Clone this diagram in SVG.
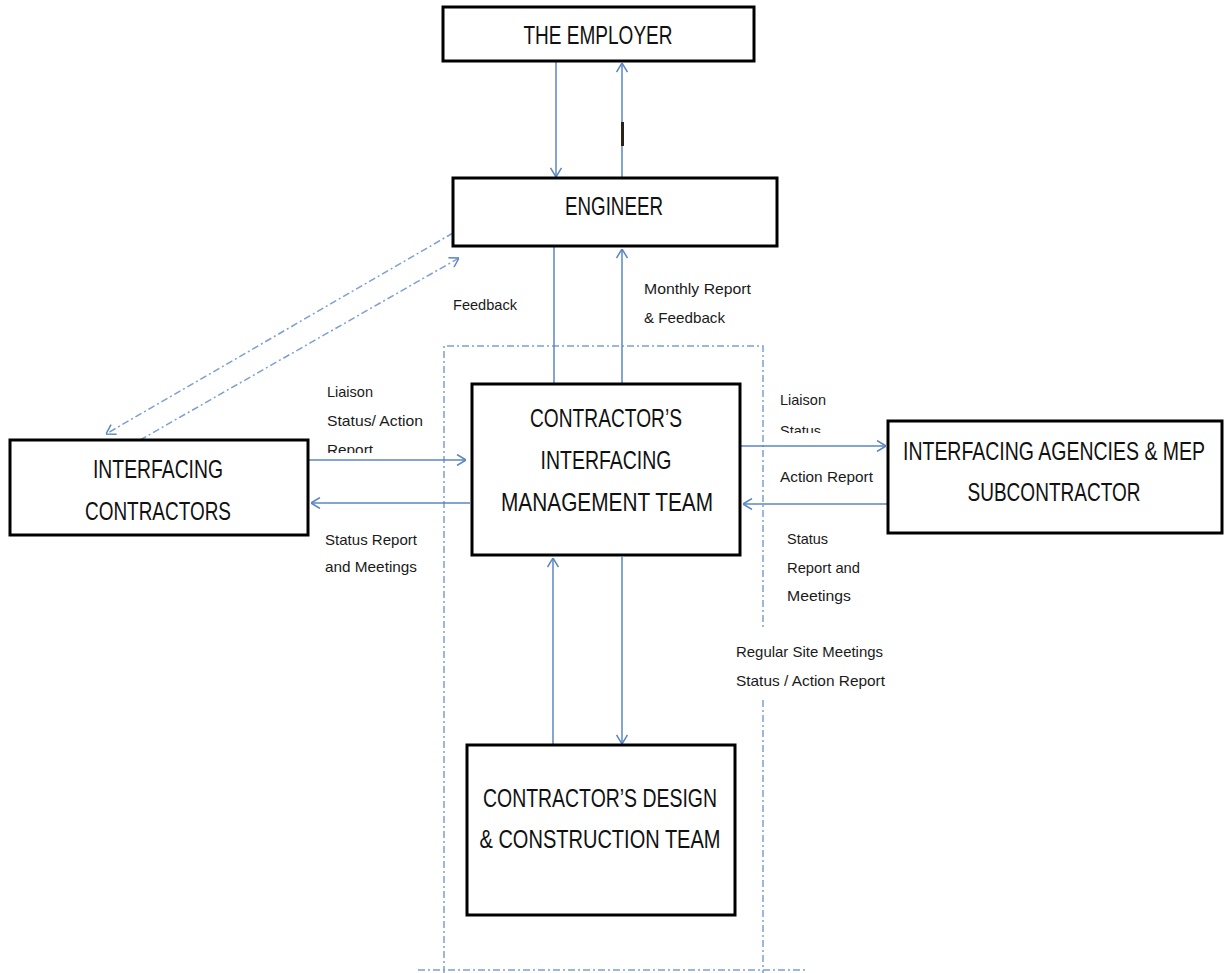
<svg xmlns="http://www.w3.org/2000/svg" width="1227" height="973" viewBox="0 0 1227 973">
<style>
.box{fill:#fff;stroke:#000;stroke-width:3}
.big{font-family:"Liberation Sans",Arial,sans-serif;font-size:25px;fill:#111;text-anchor:middle}
.lbl{font-family:"Liberation Sans",Arial,sans-serif;font-size:15px;fill:#1a1a1a}
.con{stroke:#5b86c2;stroke-width:1.5;fill:none}
.dd{stroke:#7ea0d0;stroke-width:1.5;fill:none;stroke-dasharray:7 3 2 3}
</style>
<defs>
<marker id="ah" viewBox="0 0 10 12" refX="10" refY="6" markerWidth="10" markerHeight="12" markerUnits="userSpaceOnUse" orient="auto">
<path d="M1,0.5 L10,6 L1,11.5" fill="none" stroke="#5b86c2" stroke-width="1.5"/>
</marker>
<clipPath id="clipL"><rect x="300" y="370" width="150" height="83"/></clipPath>
<clipPath id="clipR"><rect x="770" y="380" width="120" height="53"/></clipPath>
</defs>

<g id="boundary">
<path class="dd" d="M444,973 L444,346 L763,346 L763,627"/>
<path class="dd" d="M763,700 L763,973"/>
<path class="dd" d="M418,970 L806,970"/>
</g>

<g id="connectors">
<line class="con" x1="556" y1="62" x2="556" y2="177" marker-end="url(#ah)"/>
<line class="con" x1="622" y1="178" x2="622" y2="63" marker-end="url(#ah)"/>
<rect x="621" y="122" width="3" height="24" fill="#2a2218"/>
<line class="con" x1="554" y1="247" x2="554" y2="384"/>
<line class="con" x1="622" y1="384" x2="622" y2="249" marker-end="url(#ah)"/>
<line class="dd" x1="453" y1="233" x2="106" y2="434" marker-end="url(#ah)"/>
<line class="dd" x1="140" y1="440" x2="459" y2="258" marker-end="url(#ah)"/>
<line class="con" x1="309" y1="460" x2="466" y2="460" marker-end="url(#ah)"/>
<line class="con" x1="470" y1="503" x2="311" y2="503" marker-end="url(#ah)"/>
<line class="con" x1="741" y1="446" x2="886" y2="446" marker-end="url(#ah)"/>
<line class="con" x1="888" y1="504" x2="743" y2="504" marker-end="url(#ah)"/>
<line class="con" x1="553" y1="745" x2="553" y2="558" marker-end="url(#ah)"/>
<line class="con" x1="622" y1="557" x2="622" y2="744" marker-end="url(#ah)"/>
</g>

<g id="employer">
<rect class="box" x="443" y="7" width="311" height="54"/>
<text class="big" x="598" y="44" textLength="149" lengthAdjust="spacingAndGlyphs">THE EMPLOYER</text>
</g>
<g id="engineer">
<rect class="box" x="453" y="178" width="324" height="68"/>
<text class="big" x="614" y="215" textLength="98" lengthAdjust="spacingAndGlyphs">ENGINEER</text>
</g>
<g id="cimt">
<rect class="box" x="472" y="384" width="268" height="171"/>
<text class="big" x="606" y="427" textLength="152" lengthAdjust="spacingAndGlyphs">CONTRACTOR’S</text>
<text class="big" x="606" y="469" textLength="131" lengthAdjust="spacingAndGlyphs">INTERFACING</text>
<text class="big" x="607" y="511" textLength="212" lengthAdjust="spacingAndGlyphs">MANAGEMENT  TEAM</text>
</g>
<g id="interfacing-contractors">
<rect class="box" x="10" y="440" width="298" height="95"/>
<text class="big" x="158" y="478" textLength="130" lengthAdjust="spacingAndGlyphs">INTERFACING</text>
<text class="big" x="158" y="520" textLength="146" lengthAdjust="spacingAndGlyphs">CONTRACTORS</text>
</g>
<g id="interfacing-agencies">
<rect class="box" x="888" y="421" width="334" height="112"/>
<text class="big" x="1054" y="460" textLength="302" lengthAdjust="spacingAndGlyphs">INTERFACING AGENCIES &amp; MEP</text>
<text class="big" x="1054" y="501" textLength="173" lengthAdjust="spacingAndGlyphs">SUBCONTRACTOR</text>
</g>
<g id="design-team">
<rect class="box" x="467" y="745" width="268" height="170"/>
<text class="big" x="600" y="807" textLength="234" lengthAdjust="spacingAndGlyphs">CONTRACTOR’S DESIGN</text>
<text class="big" x="600" y="848" textLength="241" lengthAdjust="spacingAndGlyphs">&amp; CONSTRUCTION TEAM</text>
</g>

<g id="labels">
<text class="lbl" x="453" y="310" textLength="64" lengthAdjust="spacingAndGlyphs">Feedback</text>
<text class="lbl" x="644" y="294" textLength="107" lengthAdjust="spacingAndGlyphs">Monthly Report</text>
<text class="lbl" x="644" y="323" textLength="81" lengthAdjust="spacingAndGlyphs">&amp; Feedback</text>
<text class="lbl" x="327" y="397" textLength="46" lengthAdjust="spacingAndGlyphs">Liaison</text>
<text class="lbl" x="327" y="426" textLength="96" lengthAdjust="spacingAndGlyphs">Status/ Action</text>
<text class="lbl" x="327" y="455" clip-path="url(#clipL)" textLength="46" lengthAdjust="spacingAndGlyphs">Report</text>
<text class="lbl" x="325" y="545" textLength="92" lengthAdjust="spacingAndGlyphs">Status Report</text>
<text class="lbl" x="325" y="572" textLength="92" lengthAdjust="spacingAndGlyphs">and Meetings</text>
<text class="lbl" x="780" y="405" textLength="46" lengthAdjust="spacingAndGlyphs">Liaison</text>
<text class="lbl" x="780" y="436" clip-path="url(#clipR)" textLength="41" lengthAdjust="spacingAndGlyphs">Status</text>
<text class="lbl" x="780" y="482" textLength="93" lengthAdjust="spacingAndGlyphs">Action Report</text>
<text class="lbl" x="787" y="544" textLength="41" lengthAdjust="spacingAndGlyphs">Status</text>
<text class="lbl" x="787" y="573" textLength="73" lengthAdjust="spacingAndGlyphs">Report and</text>
<text class="lbl" x="787" y="601" textLength="64" lengthAdjust="spacingAndGlyphs">Meetings</text>
<text class="lbl" x="736" y="657" textLength="147" lengthAdjust="spacingAndGlyphs">Regular Site Meetings</text>
<text class="lbl" x="736" y="686" textLength="149" lengthAdjust="spacingAndGlyphs">Status / Action Report</text>
</g>
</svg>
